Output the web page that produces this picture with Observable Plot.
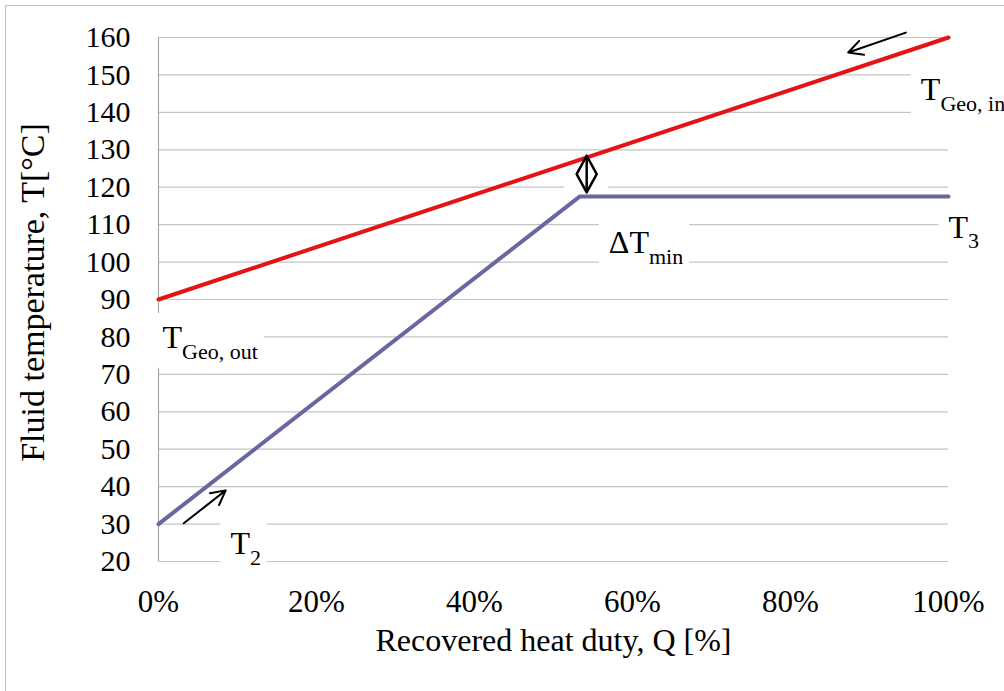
<!DOCTYPE html>
<html>
<head>
<meta charset="utf-8">
<script src="https://cdn.jsdelivr.net/npm/d3@7"></script>
<script src="https://cdn.jsdelivr.net/npm/@observablehq/plot@0.6"></script>
<style>
  body { margin: 0; background: #fff; }
  #wrap { position: relative; width: 1004px; height: 691px; overflow: hidden; }
  #border { position: absolute; left: 5px; top: 5px; width: 1010px; height: 700px;
            border-left: 1.5px solid #c0c0c0; border-top: 1.5px solid #c0c0c0; pointer-events: none; }
</style>
</head>
<body>
<div id="wrap"><div id="border"></div></div>
<script>
// ---- data ----
const geoQ = [0, 100];          // recovered heat duty, %
const geoT = [90, 160];         // geothermal fluid temperature, °C
const wfQ = [0, 53.3, 100];     // working fluid
const wfT = [30, 117.5, 117.5];
const yTicks = [20, 30, 40, 50, 60, 70, 80, 90, 100, 110, 120, 130, 140, 150, 160];
const xTicks = [0, 20, 40, 60, 80, 100];
const xTitle = "Recovered heat duty, Q [%]";
const yTitle = "Fluid temperature, T[°C]";
// labels (main text, subscript, position in data units)
const labelMain = ["T", "T", "ΔT", "T", "T"];
const labelSub = ["Geo, in", "Geo, out", "min", "3", "2"];
const labelQ = [96.5, 0.5, 57.0, 100.0, 9.1];
const labelT = [146.0, 79.8, 105.2, 109.3, 24.8];
// direction arrows
const arrowQ1 = [94.6, 3.2], arrowT1 = [161.3, 30.2];
const arrowQ2 = [87.3, 8.5], arrowT2 = [156.0, 39.0];
// ΔTmin double arrow
const dQ = 54.2, dTop = 128.4, dBot = 118.6, dHalf = 1.27;

const geo = geoQ.map((q, i) => ({q, t: geoT[i]}));
const wf = wfQ.map((q, i) => ({q, t: wfT[i]}));
const labels = labelMain.map((m, i) => ({text: m + "\u0001" + labelSub[i], q: labelQ[i], t: labelT[i]}));
const arrows = arrowQ1.map((q, i) => ({q1: q, t1: arrowT1[i], q2: arrowQ2[i], t2: arrowT2[i]}));
const dMid = (dTop + dBot) / 2;
const diamond = [[dQ, dTop], [dQ + dHalf, dMid], [dQ, dBot], [dQ - dHalf, dMid], [dQ, dTop]];

const chart = Plot.plot({
  width: 1004,
  height: 691,
  marginLeft: 158,
  marginRight: 56,
  marginTop: 37,
  marginBottom: 130,
  style: {fontFamily: "'Liberation Serif', 'Times New Roman', serif", fontSize: "30px", color: "#000", background: "transparent", overflow: "hidden"},
  x: {domain: [0, 100]},
  y: {domain: [20, 160]},
  marks: [
    Plot.ruleY(yTicks, {x1: 0, x2: 100, stroke: "#c4c4c4", strokeWidth: 1.2}),
    Plot.ruleX([0], {y1: 20, y2: 160, stroke: "#a8a8a8", strokeWidth: 1.2}),
    Plot.line(geo, {x: "q", y: "t", stroke: "#e41414", strokeWidth: 4}),
    Plot.line(wf, {x: "q", y: "t", stroke: "#6767a1", strokeWidth: 4}),
    Plot.arrow(arrows, {x1: "q1", y1: "t1", x2: "q2", y2: "t2", stroke: "#000", strokeWidth: 2, headLength: 12, headAngle: 55}),
    Plot.line(diamond, {x: d => d[0], y: d => d[1], stroke: "#000", strokeWidth: 2.5}),
    Plot.ruleX([dQ], {y1: dBot, y2: dTop, stroke: "#000", strokeWidth: 2.5}),
    Plot.axisY(yTicks, {tickSize: 0, tickPadding: 28, label: null, fontSize: 30}),
    Plot.axisX(xTicks, {tickSize: 0, tickPadding: 28, label: null, tickFormat: d => d + "%", fontSize: 31}),
    Plot.text([xTitle], {frameAnchor: "bottom", dy: 89, fontSize: 32}),
    Plot.text([yTitle], {frameAnchor: "left", textAnchor: "middle", dx: -125, dy: -7, rotate: -90, fontSize: 34}),
    Plot.text(labels, {x: "q", y: "t", text: "text", textAnchor: "start", fontSize: 32})
  ]
});
document.getElementById("wrap").prepend(chart);

// subscripts and white label boxes
const svg = d3.select(chart);
const boxes = [];
svg.selectAll("text").each(function () {
  const s = this.textContent;
  if (s.indexOf("\u0001") < 0) return;
  const [m, sub] = s.split("\u0001");
  const t = d3.select(this);
  t.text(null);
  t.append("tspan").text(m);
  t.append("tspan").attr("font-size", 22).attr("dy", 11).text(sub);
  boxes.push(this);
});
const firstLine = chart.querySelector('g[aria-label="line"]');
const rectsG = document.createElementNS("http://www.w3.org/2000/svg", "g");
chart.insertBefore(rectsG, firstLine);
for (const el of boxes) {
  const b = el.getBBox();
  const ctm = el.getCTM();
  const x0 = b.x + (ctm ? ctm.e : 0), y0 = b.y + (ctm ? ctm.f : 0);
  d3.select(rectsG).append("rect")
    .attr("x", x0 - 10).attr("y", y0 - 6)
    .attr("width", b.width + 16).attr("height", b.height + 10)
    .attr("fill", "#fff");
}
// box behind the ΔTmin double arrow
const dg = chart.querySelectorAll('g[aria-label="line"]')[2];
if (dg) {
  const b = dg.getBBox();
  d3.select(rectsG).append("rect")
    .attr("x", b.x - 12).attr("y", b.y - 4)
    .attr("width", b.width + 24).attr("height", b.height + 8)
    .attr("fill", "#fff");
}
</script>
</body>
</html>
